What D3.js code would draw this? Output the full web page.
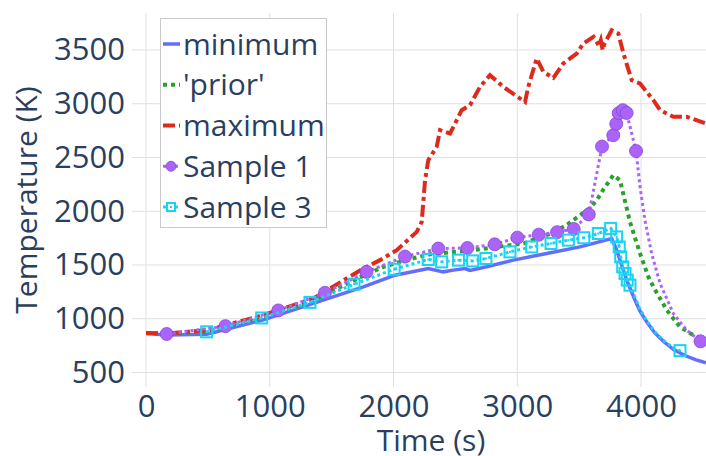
<!DOCTYPE html>
<html>
<head>
<meta charset="utf-8">
<script src="https://cdn.jsdelivr.net/npm/d3@7"></script>
<style>
  body { margin: 0; background: #fff; }
  svg { display: block; font-family: "Open Sans", sans-serif; }
</style>
</head>
<body>
<svg id="chart"></svg>
<script>
// values
var minTime = [0, 167, 490, 948, 1352, 1756, 2012, 2281, 2402, 2483, 2578, 2618, 2753, 2968, 3238, 3507, 3763, 3803, 3884, 3952, 3992, 4050, 4110, 4180, 4261, 4350, 4440, 4525]
var minTemp = [862, 848, 855, 990, 1142, 1297, 1405, 1467, 1436, 1452, 1467, 1450, 1483, 1545, 1607, 1668, 1746, 1640, 1360, 1172, 1070, 965, 870, 790, 715, 660, 620, 590]

var priorTime = [0, 167, 490, 948, 1352, 1756, 1918, 2100, 2295, 2645, 3050, 3265, 3398, 3453, 3588, 3642, 3700, 3776, 3830, 3911, 3992, 4060, 4100, 4208, 4315, 4396, 4525]
var priorTemp = [868, 858, 880, 1015, 1170, 1400, 1482, 1545, 1600, 1638, 1700, 1790, 1870, 1917, 2030, 2103, 2210, 2335, 2289, 1900, 1607, 1389, 1297, 1080, 924, 865, 790]

var maxTime = [0, 167, 490, 948, 1352, 1756, 1891, 2026, 2188, 2228, 2255, 2281, 2349, 2376, 2457, 2551, 2618, 2699, 2780, 2887, 3063, 3089, 3157, 3211, 3292, 3372, 3480, 3535, 3616, 3660, 3675, 3690, 3705, 3763, 3817, 3858, 3925, 3992, 4100, 4154, 4261, 4369, 4525]
var maxTemp = [868, 862, 893, 1033, 1188, 1467, 1545, 1638, 1808, 1901, 2289, 2475, 2599, 2754, 2723, 2940, 2987, 3157, 3266, 3157, 3017, 3157, 3421, 3297, 3240, 3374, 3467, 3561, 3622, 3540, 3590, 3500, 3560, 3684, 3653, 3467, 3219, 3188, 3033, 2940, 2878, 2878, 2816]

var s1Time = [167, 642, 1069, 1446, 1782, 2093, 2362, 2597, 2818, 3001, 3174, 3322, 3456, 3578, 3685, 3776, 3800, 3820, 3853, 3884, 3960, 3992, 4032, 4086, 4154, 4261, 4369, 4481]
var s1Temp = [858, 931, 1077, 1241, 1436, 1578, 1653, 1658, 1692, 1754, 1782, 1805, 1835, 1970, 2602, 2707, 2813, 2912, 2940, 2914, 2560, 2227, 1917, 1607, 1328, 1049, 893, 790]
var s1Marked = [167, 642, 1069, 1446, 1782, 2093, 2362, 2597, 2818, 3001, 3174, 3322, 3456, 3578, 3685, 3776, 3800, 3820, 3853, 3884, 3960, 4481]

var s3Time = [490, 935, 1325, 1681, 2005, 2281, 2389, 2525, 2640, 2747, 2941, 3117, 3273, 3413, 3538, 3655, 3755, 3803, 3824, 3836, 3852, 3871, 3889, 3911, 3992, 4050, 4110, 4180, 4261, 4315]
var s3Temp = [878, 1007, 1152, 1321, 1460, 1551, 1529, 1545, 1538, 1560, 1622, 1668, 1700, 1731, 1753, 1793, 1840, 1761, 1668, 1575, 1482, 1421, 1359, 1312, 1085, 975, 880, 800, 728, 703]
var s3Marked = [490, 935, 1325, 1681, 2005, 2281, 2389, 2525, 2640, 2747, 2941, 3117, 3273, 3413, 3538, 3655, 3755, 3803, 3824, 3836, 3852, 3871, 3889, 3911, 4315]

var xTicks = [0, 1000, 2000, 3000, 4000]
var yTicks = [500, 1000, 1500, 2000, 2500, 3000, 3500]
var legendNames = ['minimum', "'prior'", 'maximum', 'Sample 1', 'Sample 3']

var width = 706, height = 456;
var plot = { left: 146, right: 716, top: 13, bottom: 373 };
var tickLen = 14;
var ink = '#2a3f5f', gridColor = '#dfe0e4';

var svg = d3.select('#chart')
    .attr('width', width)
    .attr('height', height);

var x = d3.scaleLinear().domain([0, 4606]).range([plot.left, plot.right]);
var y = d3.scaleLinear().domain([495, 3844]).range([plot.bottom, plot.top]);

svg.append('defs').append('clipPath').attr('id', 'clip')
  .append('rect')
    .attr('x', plot.left).attr('y', plot.top)
    .attr('width', plot.right - plot.left).attr('height', plot.bottom - plot.top);

// grid + outside ticks in the grid colour
var grid = svg.append('g');
grid.selectAll('.gy').data(yTicks).enter().append('line')
    .attr('x1', plot.left - tickLen).attr('x2', plot.right)
    .attr('y1', function(d) { return y(d); }).attr('y2', function(d) { return y(d); })
    .attr('stroke', gridColor).attr('stroke-width', 1);
grid.selectAll('.gx').data(xTicks).enter().append('line')
    .attr('y1', plot.top).attr('y2', plot.bottom + tickLen)
    .attr('x1', function(d) { return x(d); }).attr('x2', function(d) { return x(d); })
    .attr('stroke', gridColor).attr('stroke-width', 1);

// axes (labels only)
var yAxis = d3.axisLeft(y).tickValues(yTicks).tickFormat(d3.format('d')).tickSize(0).tickPadding(21);
svg.append('g')
    .attr('transform', `translate(${plot.left}, 0)`)
    .call(yAxis)
    .call(function(g) { g.select('.domain').remove(); })
    .selectAll('text')
    .attr('font-size', 31).attr('fill', ink).attr('font-family', '"Open Sans", sans-serif');

var xAxis = d3.axisBottom(x).tickValues(xTicks).tickFormat(d3.format('d')).tickSize(0).tickPadding(8);
svg.append('g')
    .attr('transform', `translate(0, ${plot.bottom + tickLen})`)
    .call(xAxis)
    .call(function(g) { g.select('.domain').remove(); })
    .selectAll('text')
    .attr('font-size', 31).attr('fill', ink).attr('font-family', '"Open Sans", sans-serif');

svg.append('text')
    .attr('x', (plot.left + plot.right) / 2).attr('y', 451)
    .attr('text-anchor', 'middle')
    .attr('font-size', 30).attr('fill', ink)
    .text('Time (s)');

svg.append('text')
    .attr('transform', 'translate(37, 200) rotate(-90)')
    .attr('text-anchor', 'middle')
    .attr('font-size', 30).attr('fill', ink)
    .text('Temperature (K)');

// series
function pairs(ts, vs) {
  return ts.map(function(t, i) { return [t, vs[i]]; });
}
var line = d3.line()
    .x(function(d) { return x(d[0]); })
    .y(function(d) { return y(d[1]); });

var series = [
  { data: pairs(minTime, minTemp), color: '#636efa', w: 3.5, dash: null },
  { data: pairs(priorTime, priorTemp), color: '#2ca02c', w: 4, dash: '4,4' },
  { data: pairs(maxTime, maxTemp), color: '#dc2a1c', w: 4, dash: '12,4,4,4' },
  { data: pairs(s1Time, s1Temp), color: '#ab63fa', w: 3, dash: '3,3' },
  { data: pairs(s3Time, s3Temp), color: '#19d3f3', w: 3, dash: '3,3' }
];

var marks = svg.append('g').attr('clip-path', 'url(#clip)');

series.forEach(function(s, i) {
  var g = marks.append('g');
  g.append('path')
      .datum(s.data)
      .attr('d', line)
      .attr('fill', 'none')
      .attr('stroke', s.color)
      .attr('stroke-width', s.w)
      .attr('stroke-dasharray', s.dash);

  if (i === 3) {
    g.selectAll('circle')
        .data(s.data.filter(function(d) { return s1Marked.indexOf(d[0]) >= 0; }))
        .enter().append('circle')
        .attr('cx', function(d) { return x(d[0]); })
        .attr('cy', function(d) { return y(d[1]); })
        .attr('r', 6.5)
        .attr('fill', '#ab63fa')
        .attr('stroke', '#8646d6').attr('stroke-width', 0.8);
  }
  if (i === 4) {
    var sq = g.selectAll('.sq')
        .data(s.data.filter(function(d) { return s3Marked.indexOf(d[0]) >= 0; }))
        .enter().append('g')
        .attr('transform', function(d) { return `translate(${x(d[0])}, ${y(d[1])})`; });
    sq.append('rect')
        .attr('x', -5.5).attr('y', -5.5).attr('width', 11).attr('height', 11)
        .attr('fill', 'none').attr('stroke', '#19d3f3').attr('stroke-width', 2);
    sq.append('rect')
        .attr('x', -1).attr('y', -1).attr('width', 2).attr('height', 2)
        .attr('fill', '#19d3f3');
  }
});

// legend
var legend = svg.append('g');
legend.append('rect')
    .attr('x', 160.5).attr('y', 18.5).attr('width', 166).attr('height', 209)
    .attr('fill', '#fff').attr('stroke', '#c9c9c9').attr('stroke-width', 1);

var rowY = d3.scalePoint().domain(legendNames).range([44, 207]);
var item = legend.selectAll('.item').data(legendNames).enter().append('g')
    .attr('transform', function(d) { return `translate(0, ${rowY(d)})`; });

item.append('line')
    .attr('x1', 163).attr('x2', 180).attr('y1', 0).attr('y2', 0)
    .attr('stroke', function(d, i) { return series[i].color; })
    .attr('stroke-width', function(d, i) { return series[i].w; })
    .attr('stroke-dasharray', function(d, i) { return series[i].dash; });

item.filter(function(d, i) { return i === 3; }).append('circle')
    .attr('cx', 171).attr('cy', 0).attr('r', 5)
    .attr('fill', '#ab63fa').attr('stroke', '#8646d6').attr('stroke-width', 0.8);
var lsq = item.filter(function(d, i) { return i === 4; });
lsq.append('rect')
    .attr('x', 167).attr('y', -4).attr('width', 8).attr('height', 8)
    .attr('fill', '#fff').attr('stroke', '#19d3f3').attr('stroke-width', 2);
lsq.append('rect')
    .attr('x', 170).attr('y', -1).attr('width', 2).attr('height', 2)
    .attr('fill', '#19d3f3');

item.append('text')
    .attr('x', 183).attr('y', 0).attr('dy', '0.35em')
    .attr('font-size', 30).attr('fill', ink)
    .text(function(d) { return d; });
</script>
</body>
</html>
